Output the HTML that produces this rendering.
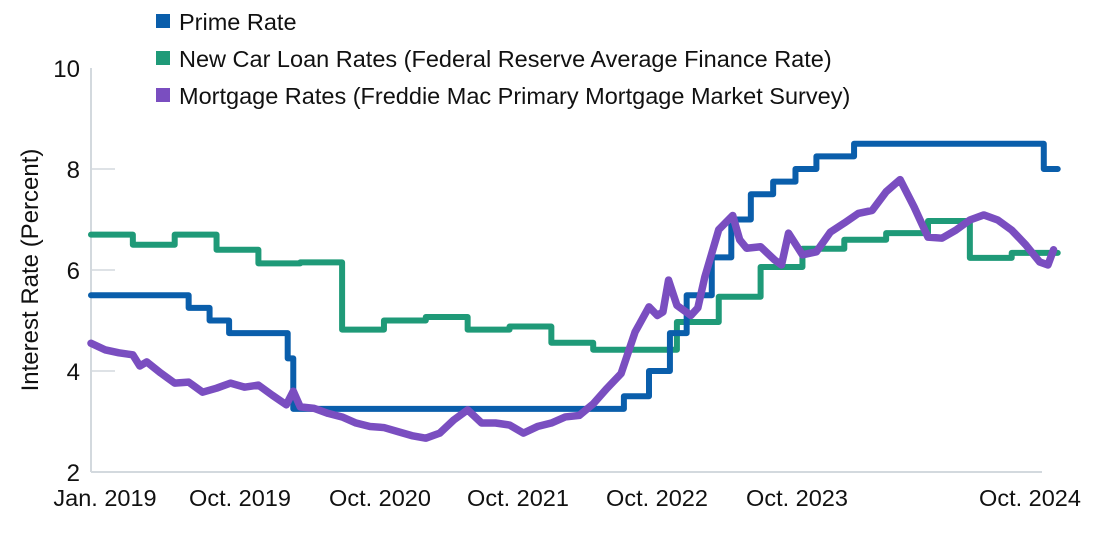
<!DOCTYPE html>
<html><head><meta charset="utf-8"><style>
body{margin:0;background:#fff;}
svg text{font-family:"Liberation Sans",sans-serif;fill:#111;}
</style></head><body>
<svg id="chart" width="1100" height="535" viewBox="0 0 1100 535" xmlns="http://www.w3.org/2000/svg">
<g id="axes"></g>
<g id="series"></g>
<g id="legend"></g>
<text transform="translate(38,270) rotate(-90)" text-anchor="middle" font-size="24">Interest Rate (Percent)</text>
</svg>
<script>
const yTicks = [2,4,6,8,10];
const xLabels = ["Jan. 2019","Oct. 2019","Oct. 2020","Oct. 2021","Oct. 2022","Oct. 2023","Oct. 2024"];
const xLabelPos = [105,240,380,518,657,797,1030];
const endMonth = 69.3;
// Prime rate change points [month since Jan 2019, rate]
const primeMonths = [0,7,8.5,9.9,14.1,14.5,38.2,40,41.5,42.7,44.5,45.9,47.3,48.9,50.5,52,54.7,68.3];
const primeRates  = [5.5,5.25,5.0,4.75,4.25,3.25,3.5,4.0,4.75,5.5,6.25,7.0,7.5,7.75,8.0,8.25,8.5,8.0];
// New car loan rates by quarter
const carRates = [6.7,6.5,6.7,6.4,6.13,6.15,4.82,5.0,5.07,4.82,4.88,4.56,4.42,4.42,4.97,5.47,6.06,6.42,6.6,6.73,6.97,6.24,6.34,6.34];
// Mortgage rates (half-month steps)
const mortMonths = [0,1,2,3,3.5,4,5,6,7,8,9,10,11,12,13,14,14.5,15,16,17,18,19,20,21,22,23,24,25,26,27,28,29,30,31,32,33,34,35,36,37,38,39,40,40.6,41,41.4,42,43,43.5,44,45,46,46.5,47,48,49,49.5,50,51,52,53,54,55,56,57,58,59,60,61,62,63,64,65,66,67,68,68.6,69];
const mortRates  = [4.55,4.42,4.36,4.32,4.1,4.18,3.96,3.76,3.78,3.58,3.66,3.76,3.68,3.72,3.52,3.33,3.6,3.29,3.26,3.16,3.09,2.97,2.9,2.88,2.8,2.72,2.67,2.77,3.03,3.23,2.97,2.97,2.93,2.77,2.9,2.97,3.09,3.12,3.35,3.66,3.95,4.77,5.27,5.1,5.17,5.8,5.3,5.1,5.25,5.86,6.8,7.08,6.6,6.43,6.46,6.2,6.1,6.73,6.3,6.36,6.75,6.93,7.12,7.18,7.55,7.79,7.25,6.65,6.63,6.79,6.99,7.09,6.99,6.79,6.5,6.16,6.1,6.4];
const NS="http://www.w3.org/2000/svg";
const X = m => 91 + m*13.95;
const Y = v => 472 - (v-2)*50.5;
function mk(tag, attrs, parent){const e=document.createElementNS(NS,tag);for(const k in attrs)e.setAttribute(k,attrs[k]);parent.appendChild(e);return e;}
const axes=document.getElementById('axes');
const ya=mk('line',{x1:91,y1:Y(10),x2:91,y2:Y(2),stroke:'#d3d9de','stroke-width':2},axes);


const xa=mk('line',{x1:91,y1:Y(2),x2:1042,y2:Y(2),stroke:'#d3d9de','stroke-width':2},axes);


yTicks.forEach(v=>{
  if(v>2&&v<10){const t=mk('line',{x1:91,y1:Y(v),x2:115,y2:Y(v),stroke:'#d3d9de','stroke-width':1.5},axes);
  
  }
  const l=mk('text',{x:80,y:Y(v)+9,'text-anchor':'end','font-size':24},axes);l.textContent=v;
  
  
});
xLabels.forEach((s,i)=>{
  const l=mk('text',{x:xLabelPos[i],y:506,'text-anchor':'middle','font-size':23.5},axes);l.textContent=s;
  
  
});
const ser=document.getElementById('series');
function stepPath(ms,vs){let d='M'+X(ms[0])+','+Y(vs[0]);for(let i=1;i<ms.length;i++){d+=' H'+X(ms[i])+' V'+Y(vs[i]);}d+=' H'+X(endMonth);return d;}
const car=mk('path',{d:stepPath(carRates.map((_,i)=>i*3),carRates),fill:'none',stroke:'#1f9a78','stroke-width':6,'stroke-linejoin':'round','stroke-linecap':'round'},ser);


const pr=mk('path',{d:stepPath(primeMonths,primeRates),fill:'none',stroke:'#0a5eab','stroke-width':6,'stroke-linejoin':'round','stroke-linecap':'round'},ser);


let md='';mortRates.forEach((v,i)=>{md+=(i?' L':'M')+X(mortMonths[i])+','+Y(v);});
const mo=mk('path',{d:md,fill:'none',stroke:'#7a4ec0','stroke-width':7.5,'stroke-linejoin':'round','stroke-linecap':'round'},ser);


const leg=document.getElementById('legend');
const legItems=[["Prime Rate","#0a5eab",22],["New Car Loan Rates (Federal Reserve Average Finance Rate)","#1f9a78",59],["Mortgage Rates (Freddie Mac Primary Mortgage Market Survey)","#7a4ec0",96]];
legItems.forEach(([t,c,y])=>{
  const g=mk('g',{},leg);
  
  
  mk('rect',{x:156,y:y-8,width:14,height:14,fill:c},g);
  const tx=mk('text',{x:179,y:y+8,'font-size':23.5},g);tx.textContent=t;
});
</script>
</body></html>
